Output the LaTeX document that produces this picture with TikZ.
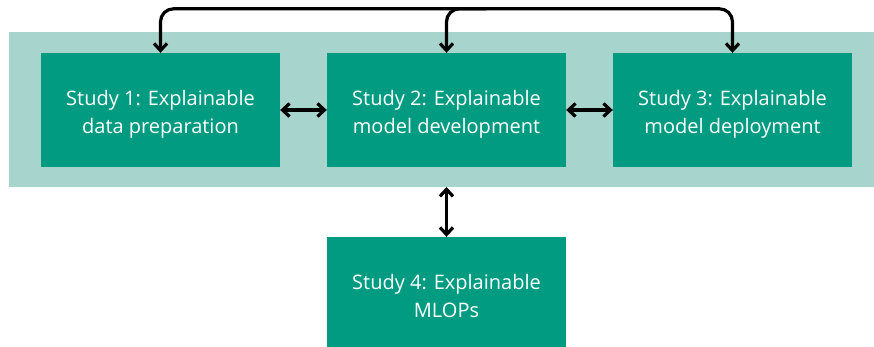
\documentclass[tikz,border=0pt]{standalone}
\usepackage{fontspec}
\setmainfont{Open Sans}
\usetikzlibrary{arrows.meta,calc}
\definecolor{boxgreen}{HTML}{009B80}
\definecolor{bandgreen}{HTML}{A7D4CC}
\tikzset{
  study/.style={fill=boxgreen, draw=none, minimum width=239pt, minimum height=114pt,
    inner sep=0pt},
  studytext/.style={text=white, align=center, inner sep=0pt, yshift=-4pt, font=\fontsize{20}{28}\selectfont},
  conn/.style={line width=3.2pt, black, {Straight Barb[length=7pt,width=13pt,line width=3.2pt]}-{Straight Barb[length=7pt,width=13pt,line width=3.2pt]}},
  conn1/.style={line width=3.2pt, black, -{Straight Barb[length=7pt,width=13pt,line width=3.2pt]}}
}
\begin{document}
\begin{tikzpicture}[x=1pt,y=-1pt]
\useasboundingbox (0,0) rectangle (874,347);
\fill[bandgreen] (9,32) rectangle (874,187);
\node[study, label={[studytext]center:Study 1: Explainable\\data preparation}] (b1) at (160.5,110) {};
\node[study, label={[studytext]center:Study 2: Explainable\\model development}] (b2) at (446.5,110) {};
\node[study, label={[studytext]center:Study 3: Explainable\\model deployment}] (b3) at (732.5,110) {};
\node[study, minimum height=110pt, label={[studytext]center:Study 4: Explainable\\MLOPs}] (b4) at (446.5,292) {};
\coordinate (bandbottom) at (446.5,187);
\draw[conn] (b1) -- (b2);
\draw[conn] (b2) -- (b3);
\draw[conn] (bandbottom) -- (b4);
\draw[conn, rounded corners=13pt] (b1.north) -- ++(0,-44) -| (b3.north);
\draw[conn1, rounded corners=13pt] ($(b2.north)+(40,-44)$) -| (b2.north);
\end{tikzpicture}
\end{document}
